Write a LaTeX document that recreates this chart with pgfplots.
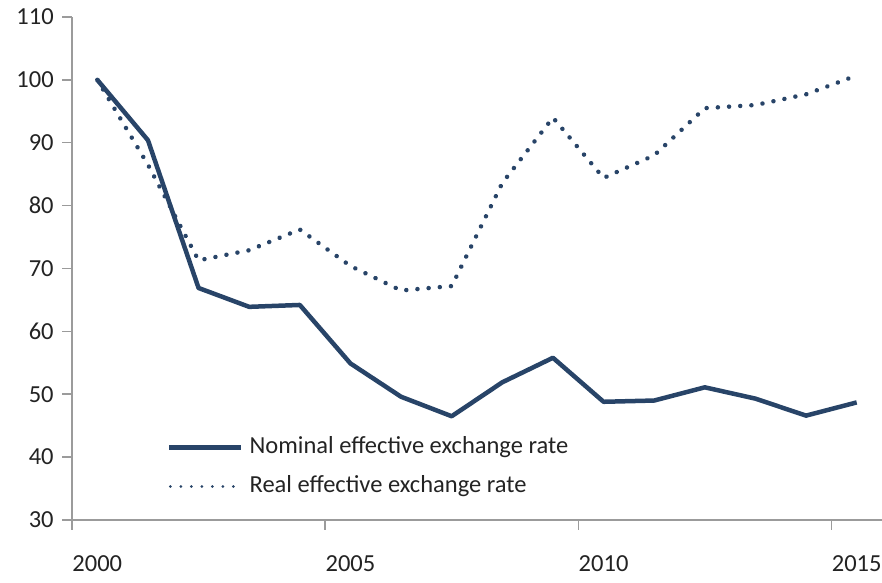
\documentclass[border=0pt]{standalone}
\usepackage{fontspec}
\setmainfont{Carlito}
\usepackage{pgfplots}
\pgfplotsset{compat=1.18}
\definecolor{navy}{RGB}{40,68,104}
\definecolor{axisgray}{RGB}{155,155,155}
\definecolor{labelgray}{RGB}{35,35,35}

% Legend samples: a long line, and a finer dotted line for the dotted series
\pgfplotsset{
  linelegend/.style={legend image code/.code={\draw[##1] (0pt,0pt) -- (72pt,0pt); \path (76pt,0pt);}},
  dotlegend/.style={legend image code/.code={\draw[##1, line width=3pt, dash pattern=on 0.01pt off 10.5pt] (1pt,0pt) -- (72pt,0pt); \path (76pt,0pt);}},
}

% Effective exchange rates, index 2000 = 100
\pgfplotstableread{
year nominal real
2000 100.0 100.0
2001 90.4  86.5
2002 66.9  71.3
2003 63.9  72.9
2004 64.2  76.2
2005 54.9  70.4
2006 49.6  66.5
2007 46.5  67.2
2008 51.9  83.6
2009 55.8  94.0
2010 48.8  84.4
2011 49.0  88.0
2012 51.1  95.5
2013 49.3  96.0
2014 46.6  97.7
2015 48.7  100.7
}\eer

\begin{document}
\fontsize{24.5pt}{29pt}\selectfont
\begin{tikzpicture}
\begin{axis}[
  scale only axis,
  width=810pt, height=503pt,
  xmin=1999.5, xmax=2015.5,
  ymin=30, ymax=110,
  axis x line*=bottom, axis y line*=left,
  axis line style={draw=axisgray, line width=1.5pt},
  tick align=outside,
  major tick length=10pt,
  xtick={2000,2005,2010,2015},
  xticklabels={2000,2005,2010,2015},
  xtick style={draw=none},
  extra x ticks={1999.5,2004.5,2009.5,2014.5},
  extra x tick labels={},
  extra x tick style={xtick style={draw=axisgray, line width=1.5pt}},
  ytick={30,40,...,110},
  ytick style={draw=axisgray, line width=1.5pt},
  /pgf/number format/assume math mode=true,
  /pgf/number format/1000 sep={},
  tick label style={font=\fontsize{24.5pt}{29pt}\selectfont, text=labelgray},
  xticklabel style={yshift=-17pt},
  legend cell align=left,
  legend style={draw=none, fill=none, at={(0.1135,0.106)}, anchor=west,
    font=\fontsize{24.5pt}{29pt}\selectfont, text=labelgray,
    row sep=14pt},
]
\addplot[navy, line width=4.5pt, line join=round, linelegend] table[x=year, y=nominal] {\eer};
\addlegendentry{Nominal effective exchange rate}
\addplot[navy, line width=4.5pt, line cap=round, dash pattern=on 0.01pt off 11.2pt, dotlegend]
  table[x=year, y=real] {\eer};
\addlegendentry{Real effective exchange rate}
\coordinate (bl) at (rel axis cs:0,0);
\coordinate (tr) at (rel axis cs:1,1);
\end{axis}
\pgfresetboundingbox
\path[use as bounding box] ([shift={(-72pt,-63pt)}]bl) rectangle ([shift={(0pt,17pt)}]tr);
\end{tikzpicture}
\end{document}
